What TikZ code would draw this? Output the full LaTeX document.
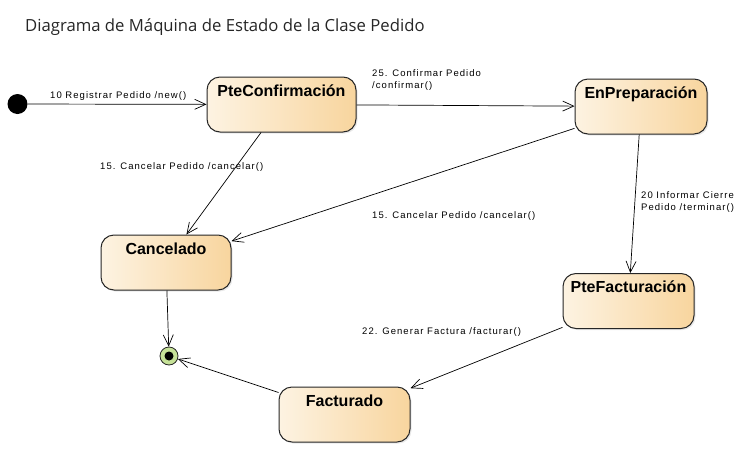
\documentclass[tikz,border=0pt]{standalone}
\usepackage{fontspec}
\setmainfont{Liberation Sans}
\newfontfamily\titlefont{Open Sans}
\usepackage{tikz}
\usepackage{xcolor}
\usetikzlibrary{arrows.meta,shadows}

\definecolor{stateleft}{RGB}{253,243,226}
\definecolor{stateright}{RGB}{248,213,158}
\definecolor{finalgreen}{RGB}{198,226,152}

\tikzset{
  state/.style={draw=black!85, line width=1pt, rounded corners=13pt,
    left color=stateleft, right color=stateright,
    drop shadow={opacity=0.18, shadow xshift=1.5pt, shadow yshift=-1.5pt},
    font=\bfseries\fontsize{16}{18}\selectfont,
    inner xsep=4pt, inner ysep=4pt, text height=15pt, text depth=32pt},
  trans/.style={-{Straight Barb[length=11pt,width=10pt]}, line width=0.7pt},
  lbl/.style={font=\fontsize{9.5}{12}\selectfont\addfontfeature{LetterSpace=11},
    anchor=west, align=left, inner sep=0pt}
}

\begin{document}
\begin{tikzpicture}[x=1pt,y=-1pt]
  \useasboundingbox (0,0) rectangle (753,453);

  \node[anchor=west, inner sep=0pt, text=black!85,
    font=\titlefont\fontsize{16.7}{20}\selectfont] (title) at (25,27)
    {Diagrama de Máquina de Estado de la Clase Pedido};

  \node[circle, fill=black, minimum size=20pt, inner sep=0pt] (ini) at (17.5,104) {};
  \node[state, minimum width=149pt] (conf) at (281.5,104.5) {PteConfirmación};
  \node[state, minimum width=132pt] (prep) at (641,106.5) {EnPreparación};
  \node[state, minimum width=130pt] (canc) at (166,262.5) {Cancelado};
  \node[state, minimum width=131pt] (fact) at (628.5,301) {PteFacturación};
  \node[state, minimum width=131pt] (factd) at (344.5,414.5) {Facturado};
  \node[circle, draw=black!85, fill=finalgreen, line width=0.8pt,
    minimum size=18pt, inner sep=0pt] (fin) at (169,356) {};
  \node[circle, fill=black, minimum size=9pt, inner sep=0pt] (findot) at (fin) {};

  % Draw edges
  \draw[trans] (ini) -- (conf);
  \draw[trans] (conf) -- (prep);
  \draw[trans] (conf) -- (canc); % down left
  \draw[trans] (prep) -- (canc); % long one
  \draw[trans] (prep) -- (fact); % down
  \draw[trans] (fact) -- (factd);
  \draw[trans] (canc) -- (fin);
  \draw[trans] (factd) -- (fin);

  % Edge labels
  \node[lbl] (l10) at (50,96) {10 Registrar Pedido /new()};
  \node[lbl] (l25) at (372,80) {25. Confirmar Pedido\\/confirmar()};
  \node[lbl] (l15a) at (100,167) {15. Cancelar Pedido /cancelar()};
  \node[lbl] (l15b) at (372,216) {15. Cancelar Pedido /cancelar()};
  \node[lbl] (l20) at (641,202.5) {20 Informar Cierre\\Pedido /terminar()};
  \node[lbl] (l22) at (362,332) {22. Generar Factura /facturar()};
\end{tikzpicture}
\end{document}
